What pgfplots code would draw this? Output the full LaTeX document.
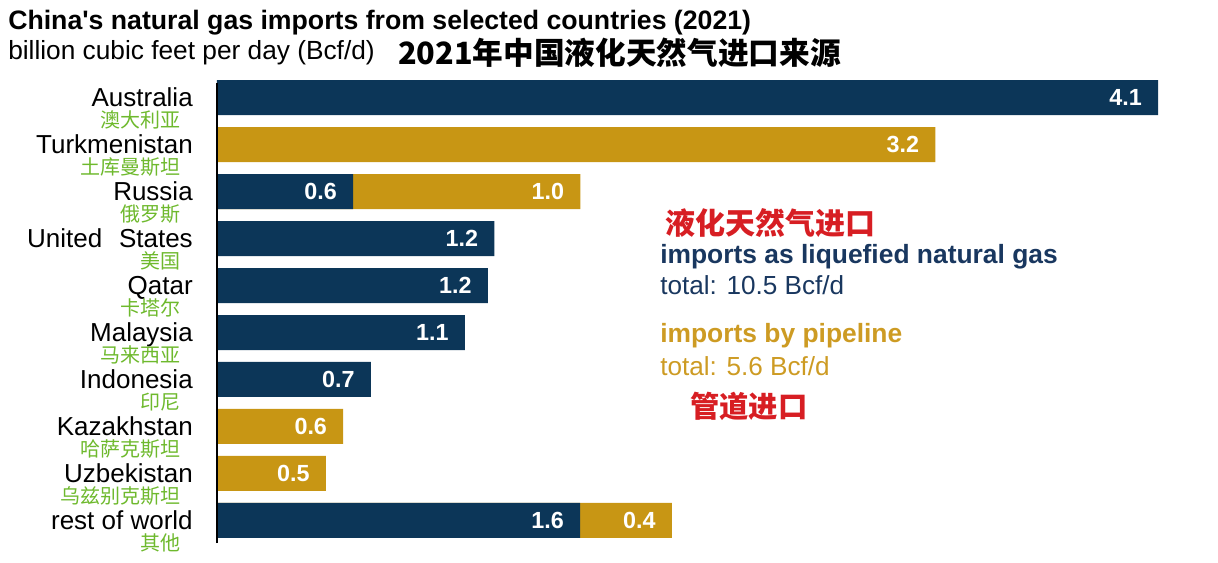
\documentclass[border=0pt]{standalone}
\usepackage{pgfplots}
\pgfplotsset{compat=1.18}
\usepackage{fontspec}
\setmainfont{Liberation Sans}
\newfontfamily\cjk{Noto Sans CJK SC}
\definecolor{navy}{RGB}{12,54,88}
\definecolor{gold}{RGB}{200,150,20}
\definecolor{goldtxt}{RGB}{205,155,35}
\definecolor{cngreen}{RGB}{110,185,45}
\definecolor{cnred}{RGB}{215,30,35}
\definecolor{txtblue}{RGB}{25,55,95}
\newcommand\lab[2]{#1\llap{\raisebox{-15.2pt}[0pt][0pt]{\cjk\fontsize{15pt}{15pt}\selectfont\color{cngreen}#2\hspace{9pt}}}}
\begin{document}
\begin{tikzpicture}
\path[use as bounding box] (0,0) rectangle (913.5pt,421.5pt);
\begin{axis}[
  at={(162.75pt,14.25pt)}, anchor=south west,
  scale only axis, width=705.75pt, height=345pt,
  xmin=0, xmax=4.1, ymin=-0.48, ymax=9.31,
  xbar, bar width=26.25pt, bar shift=0pt,
  axis line style={draw=none},
  xtick=\empty,
  ytick={0,...,9},
  yticklabels={\lab{rest of world}{其他},\lab{Uzbekistan}{乌兹别克斯坦},\lab{Kazakhstan}{哈萨克斯坦},\lab{Indonesia}{印尼},\lab{Malaysia}{马来西亚},\lab{Qatar}{卡塔尔},\lab{United\hspace{12.5pt}States}{美国},\lab{Russia}{俄罗斯},\lab{Turkmenistan}{土库曼斯坦},\lab{Australia}{澳大利亚}},
  major tick length=0pt, tick style={draw=none},
  yticklabel style={font=\fontsize{19.5pt}{19.5pt}\selectfont, text height=14pt, text depth=0pt, inner sep=0pt, xshift=-18pt, anchor=east},
  clip=false,
  nodes near coords, point meta=explicit symbolic,
  nodes near coords style={anchor=east, xshift=-12pt, text=white, inner sep=0pt, font=\fontsize{17.5pt}{17.5pt}\selectfont\bfseries},
]
% pipeline imports, drawn as bars ending at LNG + pipeline
\addplot[fill=gold, draw=none] coordinates {(1.982,0) [0.4] (0.474,1) [0.5] (0.55,2) [0.6] (1.583,7) [1.0] (3.13,8) [3.2]};
% LNG imports
\addplot[fill=navy, draw=none] coordinates {(1.582,0) [1.6] (0.67,3) [0.7] (1.08,4) [1.1] (1.18,5) [1.2] (1.208,6) [1.2] (0.593,7) [0.6] (4.1,9) [4.1]};
\draw[black, line width=1.5pt] (axis cs:0,-0.48) -- (axis cs:0,9.31);
\end{axis}
\node[anchor=base west, inner sep=0pt, font=\bfseries\fontsize{20pt}{20pt}\selectfont] at (6pt,399pt) {China\textquotesingle s natural gas imports from selected countries (2021)};
\node[anchor=base west, inner sep=0pt, font=\fontsize{19.7pt}{19.7pt}\selectfont] at (6pt,376.5pt) {billion cubic feet per day (Bcf/d)};
\node[anchor=base west, inner sep=0pt, font=\cjk\bfseries\fontsize{23pt}{23pt}\selectfont] at (298.5pt,372.75pt) {2021年中国液化天然气进口来源};
\node[anchor=base west, inner sep=0pt, text=cnred, font=\cjk\bfseries\fontsize{22.5pt}{22.5pt}\selectfont] at (498.75pt,246pt) {液化天然气进口};
\node[anchor=base west, inner sep=0pt, text=txtblue, font=\bfseries\fontsize{19.8pt}{19.8pt}\selectfont] at (495pt,224.25pt) {imports as liquefied natural gas};
\node[anchor=base west, inner sep=0pt, text=txtblue, font=\fontsize{19.6pt}{19.6pt}\selectfont] at (495pt,201pt) {total: 10.5 Bcf/d};
\node[anchor=base west, inner sep=0pt, text=goldtxt, font=\bfseries\fontsize{19.8pt}{19.8pt}\selectfont] at (495pt,164.6pt) {imports by pipeline};
\node[anchor=base west, inner sep=0pt, text=goldtxt, font=\fontsize{19.6pt}{19.6pt}\selectfont] at (495pt,140.25pt) {total: 5.6 Bcf/d};
\node[anchor=base west, inner sep=0pt, text=cnred, font=\cjk\bfseries\fontsize{22pt}{22pt}\selectfont] at (517.5pt,108.75pt) {管道进口};
\end{tikzpicture}
\end{document}
